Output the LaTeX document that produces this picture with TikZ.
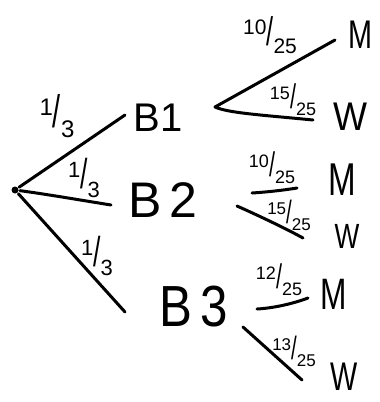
\documentclass[tikz,border=0pt]{standalone}
\usepackage{fontspec}
\setmainfont{Liberation Sans}
\newcommand{\hfrac}[2]{\raisebox{0.5em}{#1}\scalebox{1.2}[1.9]{/}\raisebox{-0.4em}{#2}}
\newcommand{\sq}[2]{\scalebox{#1}[1]{#2}}
\begin{document}
\begin{tikzpicture}[x=1pt,y=-1pt,line width=3pt,line cap=round,line join=round,
  big/.style={inner sep=0pt,font=\fontsize{#1}{#1}\selectfont},
  frac/.style={inner sep=0pt,font=\fontsize{#1}{#1}\selectfont},
  branch/.style={draw,line width=3pt}]
\useasboundingbox[fill=white] (0,0) rectangle (380,402);
% root
\node[circle,fill,inner sep=0pt,minimum size=7pt] (root) at (15,190) {};
% first level
\node[big=40] (B1) at (158,118) {B1};
\node[big=50] (B2) at (163,200) {B\,2};
\node[big=58] (B3) at (194,307) {\sq{0.85}{B\,3}};
\coordinate (r1) at (125,115);
\coordinate (r2) at (111,205);
\coordinate (r3) at (125,312);
\draw[branch] (root) -- (r1);
\draw[branch] (root) .. controls (45,194) and (80,200) .. (r2);
\draw[branch] (root) -- (r3);
\node[frac=24] (p1) at (57,116) {\hfrac{1}{3}};
\node[frac=22] (p2) at (84,178) {\hfrac{1}{3}};
\node[frac=22] (p3) at (97,256) {\hfrac{1}{3}};
% outcomes
\node[big=40] (M1) at (360,35) {\sq{0.72}{M}};
\node[big=40] (W1) at (350,117) {\sq{0.9}{W}};
\node[big=46] (M2) at (342,180) {\sq{0.72}{M}};
\node[big=35] (W2) at (347,236) {\sq{0.75}{W}};
\node[big=44] (M3) at (334,294) {\sq{0.72}{M}};
\node[big=40] (W3) at (344,377) {\sq{0.72}{W}};
% B1 branches
\coordinate (f1) at (215,107);
\coordinate (m1e) at (335,40);
\coordinate (w1e) at (313,120);
\draw[branch] (m1e) -- (f1) .. controls (228,113) and (262,115) .. (w1e);
\node[frac=21] (q1) at (270,35) {\hfrac{10}{25}};
\node[frac=18] (q2) at (293,100) {\hfrac{15}{25}};
% B2 branches
\coordinate (m2s) at (252,193);
\coordinate (m2e) at (297,188);
\coordinate (w2s) at (237,206);
\coordinate (w2e) at (303,238);
\draw[branch] (m2s) .. controls (268,192) and (285,190) .. (m2e);
\draw[branch] (w2s) .. controls (255,214) and (285,228) .. (w2e);
\node[frac=18] (q3) at (272,168) {\hfrac{10}{25}};
\node[frac=17] (q4) at (289,215) {\hfrac{15}{25}};
% B3 branches
\coordinate (m3s) at (257,309);
\coordinate (m3e) at (308,298);
\coordinate (w3s) at (243,327);
\coordinate (w3e) at (302,380);
\draw[branch] (m3s) .. controls (275,308) and (295,303) .. (m3e);
\draw[branch] (w3s) -- (w3e);
\node[frac=18] (q5) at (279,280) {\hfrac{12}{25}};
\node[frac=17] (q6) at (294,351) {\hfrac{13}{25}};
\end{tikzpicture}
\end{document}
